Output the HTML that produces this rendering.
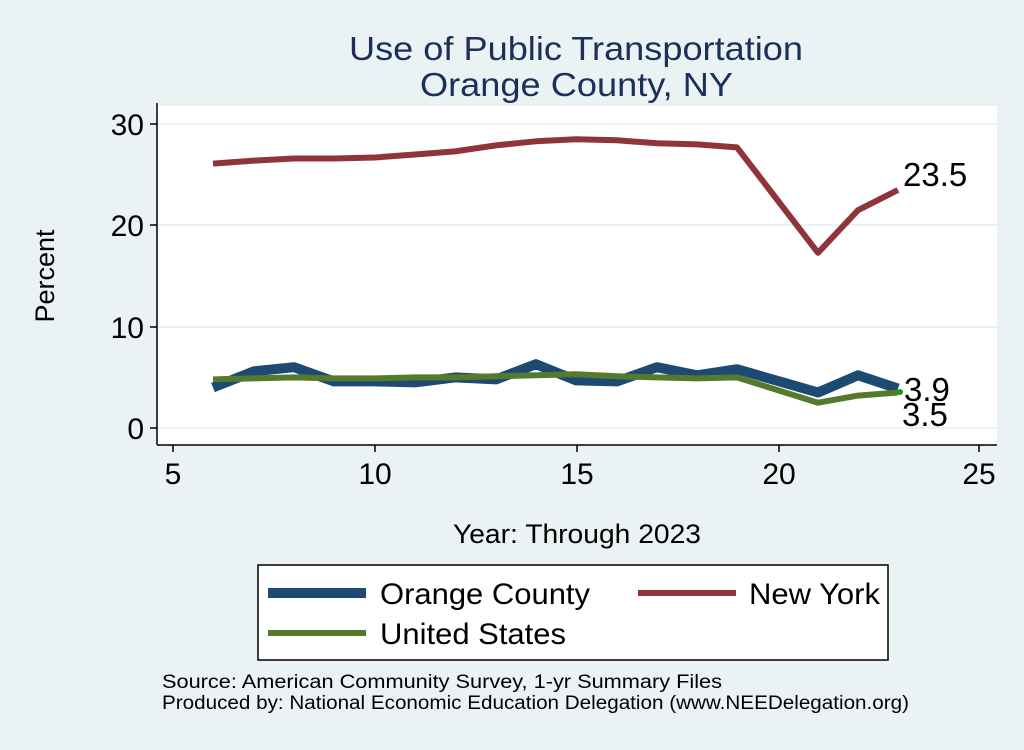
<!DOCTYPE html>
<html><head><style>body{margin:0;background:#eaf2f3}</style></head><body>
<svg width="1024" height="745" xmlns="http://www.w3.org/2000/svg" font-family="Liberation Sans, sans-serif">
<rect width="1024" height="745" fill="#eaf2f3"/>
<text x="349" y="60" font-size="33" fill="#1a2f5a" textLength="454" lengthAdjust="spacingAndGlyphs">Use of Public Transportation</text>
<text x="420" y="96" font-size="33" fill="#1a2f5a" textLength="313" lengthAdjust="spacingAndGlyphs">Orange County, NY</text>
<rect x="157" y="106" width="840" height="339" fill="#fff"/>
<g stroke="#eaf2f3" stroke-width="2">
<line x1="157" x2="997" y1="124" y2="124"/><line x1="157" x2="997" y1="225" y2="225"/><line x1="157" x2="997" y1="327" y2="327"/><line x1="157" x2="997" y1="428" y2="428"/></g>
<g stroke="#000" stroke-width="1.5">
<line x1="157" y1="103" x2="157" y2="445"/><line x1="157" y1="445" x2="997" y2="445"/>
<line x1="150" x2="157" y1="124" y2="124"/><line x1="150" x2="157" y1="225" y2="225"/><line x1="150" x2="157" y1="327" y2="327"/><line x1="150" x2="157" y1="428" y2="428"/>
<line x1="173" x2="173" y1="445" y2="452"/><line x1="375" x2="375" y1="445" y2="452"/><line x1="577" x2="577" y1="445" y2="452"/><line x1="779" x2="779" y1="445" y2="452"/><line x1="979" x2="979" y1="445" y2="452"/></g>
<g font-size="30" text-anchor="end"><text x="144" y="135">30</text><text x="144" y="236">20</text><text x="144" y="338">10</text><text x="144" y="439">0</text></g>
<g font-size="30" text-anchor="middle"><text x="173" y="484">5</text><text x="375" y="484">10</text><text x="577" y="484">15</text><text x="779" y="484">20</text><text x="979" y="484">25</text></g>
<text x="453" y="543" font-size="27" textLength="248" lengthAdjust="spacingAndGlyphs">Year: Through 2023</text>
<text transform="translate(54,276) rotate(-90)" font-size="27" text-anchor="middle">Percent</text>
<g fill="none" stroke-linejoin="round">
<polyline stroke="#1c4a72" stroke-width="10" points="213,387.5 254,371.3 294,367.2 334,381.4 375,381.4 415,382.4 455,377.4 496,379.4 536,364.2 576,380.4 617,381.4 657,367.2 697,375.3 737,369.2 818,392.5 858,375.3 898,388.5"/>
<polyline stroke="#8f343b" stroke-width="6" points="213,163.6 254,160.6 294,158.5 334,158.5 375,157.5 415,154.5 455,151.4 496,145.4 536,141.3 576,139.3 617,140.3 657,143.3 697,144.4 737,147.4 818,252.8 858,210.2 898,190"/>
<polyline stroke="#557a2e" stroke-width="6" points="213,379.4 254,378.4 294,377.4 334,378.4 375,378.4 415,377.4 455,377.4 496,376.3 536,375.3 576,374.3 617,376.3 657,377.4 697,378.4 737,377.4 818,402.7 858,395.6 898,392.5"/>
</g>
<circle cx="900" cy="392" r="3" fill="#1a9a1a"/>
<g font-size="33"><text x="903" y="186">23.5</text><text x="904" y="401">3.9</text><text x="902" y="426">3.5</text></g>
<rect x="258" y="565" width="630" height="95" fill="#fff" stroke="#000" stroke-width="1.5"/>
<line x1="268" x2="366" y1="593" y2="593" stroke="#1c4a72" stroke-width="10"/>
<line x1="638" x2="736" y1="593" y2="593" stroke="#8f343b" stroke-width="6"/>
<line x1="268" x2="366" y1="633" y2="633" stroke="#557a2e" stroke-width="6"/>
<g font-size="30"><text x="380" y="604" textLength="210" lengthAdjust="spacingAndGlyphs">Orange County</text><text x="749" y="604" textLength="131" lengthAdjust="spacingAndGlyphs">New York</text><text x="380" y="644" textLength="186" lengthAdjust="spacingAndGlyphs">United States</text></g>
<g font-size="19"><text x="162" y="688" textLength="560" lengthAdjust="spacingAndGlyphs">Source: American Community Survey, 1-yr Summary Files</text><text x="162" y="709" textLength="747" lengthAdjust="spacingAndGlyphs">Produced by: National Economic Education Delegation (www.NEEDelegation.org)</text></g>
</svg>
</body></html>
